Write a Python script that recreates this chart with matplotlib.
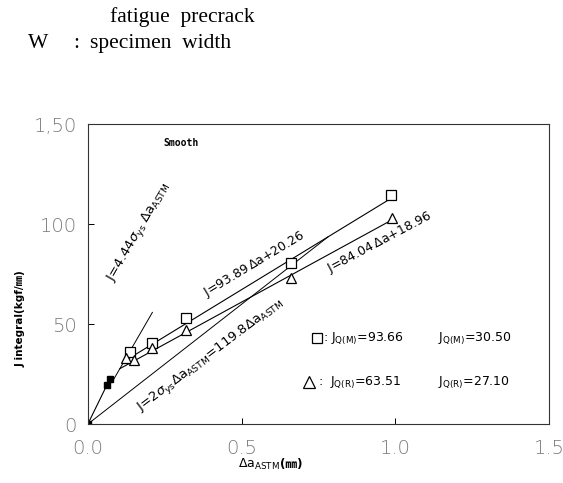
import numpy as np
from matplotlib import pyplot as plt

plt.rcParams['font.family'] = ['DejaVu Sans', 'Noto Sans CJK JP']
plt.rcParams['mathtext.fontset'] = 'dejavusans'

# Data
pre_x = [0.0, 0.062, 0.072]          # filled squares (precrack)
pre_j = [0.0, 19.5, 22.5]
sq_x = [0.137, 0.21, 0.32, 0.66, 0.985]
sq_j = [36.0, 40.5, 53.0, 80.5, 114.5]
tri_x = [0.125, 0.15, 0.21, 0.32, 0.66, 0.99]
tri_j = [33.0, 32.0, 38.0, 47.0, 73.0, 103.0]

# fitted / construction lines
fit_m = [93.89, 20.26]
fit_r = [84.04, 18.96]
sigma2 = 119.8        # 2*sigma_ys
blunt = 4.44 * sigma2 / 2

fig = plt.figure(figsize=(5.63, 4.83), dpi=100)
ax = fig.add_axes([0.156, 0.122, 0.819, 0.621])

# origin -> precrack points
ax.plot(pre_x, pre_j, color='black', lw=0.8, marker='s', ms=4.5,
        mfc='black', mec='black')

# blunting line J = 4.44 sigma_ys da
xb = np.array([0.085, 0.21])
ax.plot(xb, blunt * xb, color='black', lw=0.7)

# 2 sigma_ys line, from origin to the square fit line
x_end = fit_m[1] / (sigma2 - fit_m[0])
xs = np.array([0.0, x_end])
ax.plot(xs, sigma2 * xs, color='black', lw=0.7)

# regression lines
x0m = fit_m[1] / (blunt - fit_m[0])
xm = np.array([x0m, 0.985])
ax.plot(xm, fit_m[0] * xm + fit_m[1], color='black', lw=0.8)
x0r = fit_r[1] / (blunt - fit_r[0])
xr = np.array([x0r, 0.99])
ax.plot(xr, fit_r[0] * xr + fit_r[1], color='black', lw=0.8)

ax.plot(sq_x, sq_j, ls='none', marker='s', ms=6.5, mfc='white',
        mec='black', mew=0.9)
ax.plot(tri_x, tri_j, ls='none', marker='^', ms=7, mfc='white',
        mec='black', mew=0.9)

ax.set_xlim(0, 1.5)
ax.set_ylim(0, 150)
ax.set_xticks([0.0, 0.5, 1.0, 1.5])
ax.set_xticklabels(['0.0', '0.5', '1.0', '1.5'])
ax.set_yticks([0, 50, 100, 150])
ax.set_yticklabels(['0', '50', '100', '1,50'])
ax.tick_params(direction='in', length=4, width=0.7, pad=8,
               labelsize=14, labelcolor='#7a7a7a')
ax.tick_params(axis='x', pad=11)
for lab in ax.get_xticklabels() + ax.get_yticklabels():
    lab.set_fontweight('light')
for sp in ax.spines.values():
    sp.set_linewidth(0.8)
    sp.set_color('#333333')

# x label: mathtext part, then the unit in a font that has the glyph
xl1 = ax.text(0.325, -0.135, r'$\Delta$a$_{\mathrm{ASTM}}$', fontsize=9,
              transform=ax.transAxes, ha='left', va='center')
fig.canvas.draw()
bb = xl1.get_window_extent()
x_next = ax.transAxes.inverted().transform((bb.x1, 0))[0]
ax.text(x_next, -0.135, '(㎜)', fontsize=8.5, fontweight='bold',
        transform=ax.transAxes, ha='left', va='center')

ax.set_ylabel('J integral(kgf/㎜)', fontsize=7.5, fontweight='bold')
ax.yaxis.set_label_coords(-0.135, 0.35)

ax.text(0.245, 139, 'Smooth', fontsize=7, fontweight='bold',
        family='DejaVu Sans Mono')

ax.text(0.165, 96, r'J=4.44$\sigma_{\mathrm{ys}}$ $\Delta$a$_{\mathrm{ASTM}}$',
        fontsize=9.5, rotation=60, ha='center', va='center')
ax.text(0.54, 80, r'J=93.89$\,\Delta$a+20.26', fontsize=9,
        rotation=31, ha='center', va='center')
ax.text(0.95, 90.5, r'J=84.04$\,\Delta$a+18.96', fontsize=9,
        rotation=28, ha='center', va='center')
ax.text(0.40, 34.5,
        r'J=2$\sigma_{\mathrm{ys}}$$\Delta$a$_{\mathrm{ASTM}}$=119.8$\Delta$a$_{\mathrm{ASTM}}$',
        fontsize=9.5, rotation=37, ha='center', va='center')

ax.plot([0.745], [43], ls='none', marker='s', ms=7, mfc='white',
        mec='black', mew=0.9)
ax.plot([0.72], [21], ls='none', marker='^', ms=8, mfc='white',
        mec='black', mew=0.9)
ax.text(0.765, 43, r': J$_{\mathrm{Q(M)}}$=93.66', fontsize=9, va='center')
ax.text(0.75, 21, r':  J$_{\mathrm{Q(R)}}$=63.51', fontsize=9, va='center')
ax.text(1.14, 43, r'J$_{\mathrm{Q(M)}}$=30.50', fontsize=9, va='center')
ax.text(1.14, 21, r'J$_{\mathrm{Q(R)}}$=27.10', fontsize=9, va='center')

fig.text(0.195, 0.965, 'fatigue  precrack', fontsize=15.5,
         family='Liberation Serif', va='center')
fig.text(0.05, 0.91, 'W', fontsize=15.5, family='Liberation Serif', va='center')
fig.text(0.13, 0.91, ':', fontsize=15.5, family='Liberation Serif', va='center')
fig.text(0.16, 0.91, 'specimen  width', fontsize=15.5,
         family='Liberation Serif', va='center')

fig.savefig('out.png', dpi=100)
